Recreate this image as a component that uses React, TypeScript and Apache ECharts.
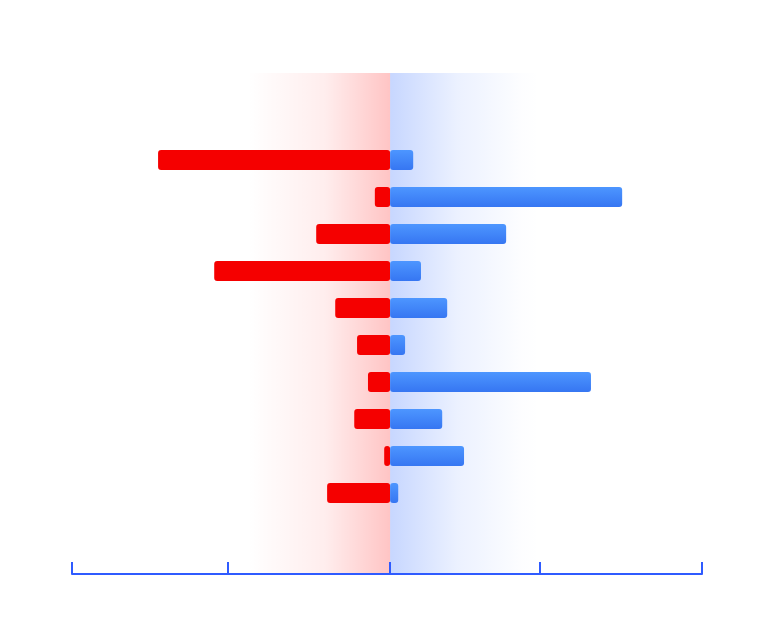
import React, { useEffect, useRef } from "react";
import * as echarts from "echarts";

const categories = ["A", "B", "C", "D", "E", "F", "G", "H", "I", "J"];
const negativeValues = [-74.4, -4.9, -23.7, -56.4, -17.6, -10.6, -7.1, -11.5, -1.9, -20.2];
const positiveValues = [7.4, 74.4, 37.2, 9.9, 18.3, 4.8, 64.4, 16.7, 23.7, 2.6];
const axisMin = -102;
const axisMax = 100;
const tickValues = [-102, -52, 0, 48, 100];
const redBand = [-52, 0];
const blueBand = [0, 48];

export default function App() {
  const ref = useRef<HTMLDivElement>(null);
  useEffect(() => {
    if (!ref.current) return;
    const chart = echarts.init(ref.current, null, { renderer: "svg" });
    const axisColor = "#2f5bff";
    chart.setOption({
      animation: false,
      backgroundColor: "#ffffff",
      grid: [
        { left: 72, right: 71, top: 73, bottom: 54 },
        { left: 72, right: 71, top: 141.5, bottom: 116.5 },
      ],
      xAxis: [
        {
          gridIndex: 0,
          type: "value",
          min: axisMin,
          max: axisMax,
          z: 10,
          axisLine: { show: true, lineStyle: { color: axisColor, width: 2 } },
          axisTick: {
            show: true,
            inside: true,
            length: 12,
            customValues: tickValues,
            lineStyle: { color: axisColor, width: 2 },
          },
          axisLabel: { show: false },
          splitLine: { show: false },
        },
        {
          gridIndex: 1,
          type: "value",
          min: axisMin,
          max: axisMax,
          show: false,
          splitLine: { show: false },
        },
      ],
      yAxis: [
        { gridIndex: 0, type: "value", min: 0, max: 1, show: false, splitLine: { show: false } },
        {
          gridIndex: 1,
          type: "category",
          data: categories,
          inverse: true,
          show: false,
        },
      ],
      series: [
        {
          type: "line",
          xAxisIndex: 0,
          yAxisIndex: 0,
          data: [[0, 0]],
          symbol: "none",
          lineStyle: { opacity: 0 },
          silent: true,
          z: 1,
          markArea: {
            silent: true,
            label: { show: false },
            data: [
              [
                {
                  xAxis: redBand[0],
                  itemStyle: {
                    color: new echarts.graphic.LinearGradient(0, 0, 1, 0, [
                      { offset: 0, color: "rgba(255,0,0,0)" },
                      { offset: 0.12, color: "rgba(255,0,0,0)" },
                      { offset: 0.6, color: "rgba(255,0,0,0.07)" },
                      { offset: 1, color: "rgba(255,0,0,0.23)" },
                    ]),
                  },
                },
                { xAxis: redBand[1] },
              ],
              [
                {
                  xAxis: blueBand[0],
                  itemStyle: {
                    color: new echarts.graphic.LinearGradient(0, 0, 1, 0, [
                      { offset: 0, color: "rgba(40,100,255,0.26)" },
                      { offset: 0.45, color: "rgba(40,100,255,0.09)" },
                      { offset: 0.88, color: "rgba(40,100,255,0.01)" },
                      { offset: 1, color: "rgba(40,100,255,0)" },
                    ]),
                  },
                },
                { xAxis: blueBand[1] },
              ],
            ],
          },
        },
        {
          type: "bar",
          xAxisIndex: 1,
          yAxisIndex: 1,
          data: negativeValues,
          barWidth: 20,
          barGap: "-100%",
          z: 3,
          itemStyle: { color: "#f50000", borderRadius: 3 },
          emphasis: { disabled: true },
        },
        {
          type: "bar",
          xAxisIndex: 1,
          yAxisIndex: 1,
          data: positiveValues,
          barWidth: 20,
          barGap: "-100%",
          z: 3,
          itemStyle: {
            borderRadius: 3,
            color: new echarts.graphic.LinearGradient(0, 0, 0, 1, [
              { offset: 0, color: "#4d96ff" },
              { offset: 1, color: "#3676f2" },
            ]),
          },
          emphasis: { disabled: true },
        },
      ],
    });
    return () => chart.dispose();
  }, []);
  return (
    <div
      ref={ref}
      style={{ position: "absolute", left: 0, top: 0, width: 773, height: 628 }}
    />
  );
}
